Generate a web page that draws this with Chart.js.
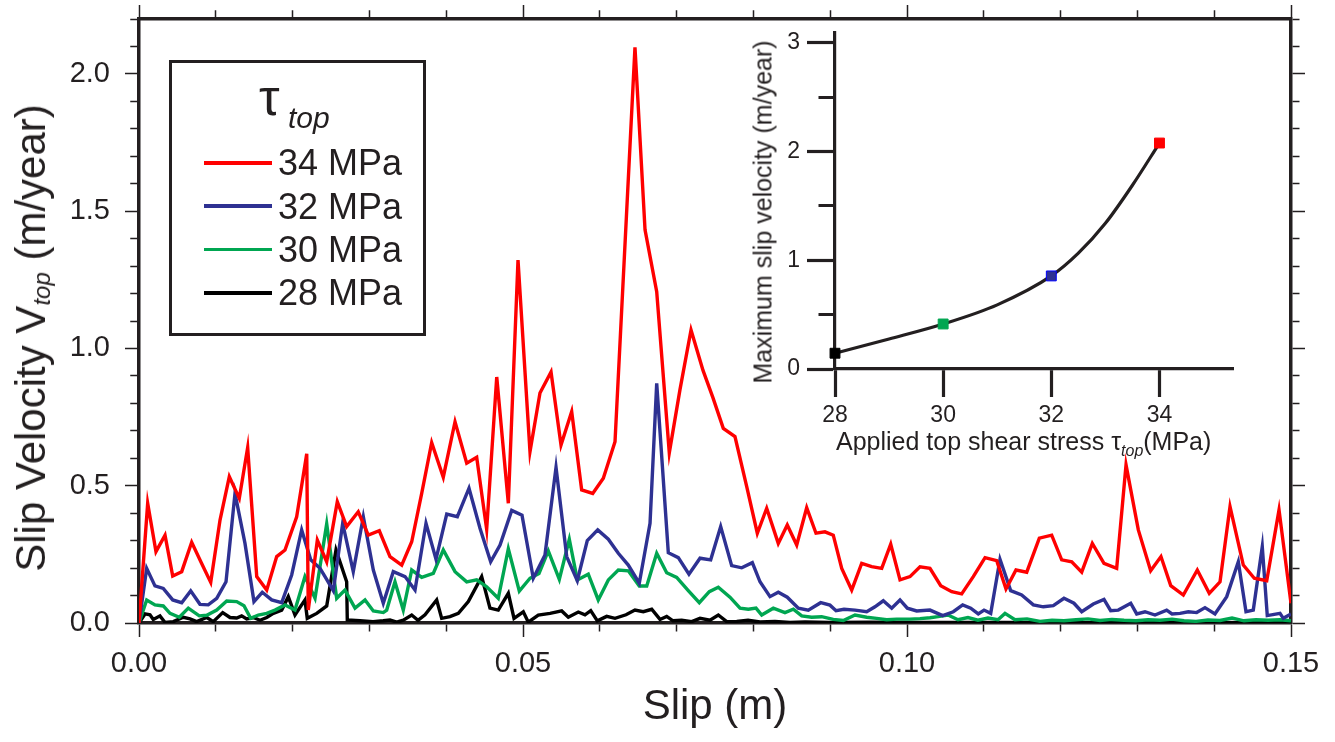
<!DOCTYPE html>
<html lang="en">
  <head>
    <meta charset="UTF-8" />
    <title>Slip velocity vs slip</title>
    <script src="https://cdn.jsdelivr.net/npm/chart.js"></script>
    <style>
      body { margin: 0; background: #fff; }
      #wrap { position: relative; width: 1335px; height: 742px; font-family: "Liberation Sans", Arial, sans-serif; color: #231f20; }
      canvas { position: absolute; }
      .txt { position: absolute; white-space: nowrap; line-height: 1; }
      .rot { transform: translate(-50%, -50%) rotate(-90deg); }
      .legbox { position: absolute; left: 169px; top: 60px; width: 257px; height: 276px; box-sizing: border-box; border: 3.5px solid #231f20; }
      .swatch { position: absolute; left: 204px; width: 68px; height: 3.5px; }
    </style>
  </head>
  <body>
    <div id="wrap">
      <canvas id="mainChart" width="1335" height="742" style="left:0;top:0"></canvas>
      <canvas id="insetChart" width="600" height="480" style="left:700px;top:0"></canvas>

      <!-- main y title -->
      <div class="txt rot" style="left:31px;top:338px;font-size:42px">Slip Velocity V<span style="font-size:24px;font-style:italic;position:relative;top:0.2em">top</span> (m/year)</div>

      <!-- legend -->
      <div class="legbox"></div>
      <div class="txt" style="left:259px;top:71px;font-size:52px">&tau;</div>
      <div class="txt" style="left:288px;top:103px;font-size:30px;font-style:italic">top</div>
      <div class="swatch" style="top:161px;background:#ff0000"></div>
      <div class="swatch" style="top:204px;background:#2e3192"></div>
      <div class="swatch" style="top:247.5px;background:#00a651"></div>
      <div class="swatch" style="top:291px;background:#000000"></div>
      <div class="txt" style="left:278px;top:145px;font-size:36px">34 MPa</div>
      <div class="txt" style="left:278px;top:188.5px;font-size:36px">32 MPa</div>
      <div class="txt" style="left:278px;top:232px;font-size:36px">30 MPa</div>
      <div class="txt" style="left:278px;top:275px;font-size:36px">28 MPa</div>

      <!-- inset titles -->
      <div class="txt rot" style="left:763px;top:212px;font-size:25px">Maximum slip velocity (m/year)</div>
      <div class="txt" style="left:836px;top:429px;font-size:25px">Applied top shear stress &tau;<span style="font-size:16px;font-style:italic;position:relative;top:0.35em">top</span>(MPa)</div>
    </div>

    <script>
      // slip (m) and slip velocity (m/year)
      const slip34 = [0, 0.00113, 0.00221, 0.00339, 0.00439, 0.00556, 0.00686, 0.00816, 0.00934, 0.01055,
        0.01176, 0.01306, 0.01415, 0.01533, 0.01663, 0.01793, 0.01901, 0.02053, 0.02184, 0.02204,
        0.02322, 0.02444, 0.02582, 0.02704, 0.02855, 0.02986, 0.03129, 0.03268, 0.03421, 0.03551,
        0.03681, 0.03811, 0.03962, 0.04115, 0.04267, 0.04397, 0.04527, 0.04658, 0.04809, 0.04935,
        0.05091, 0.05221, 0.05365, 0.05495, 0.05634, 0.05764, 0.05908, 0.06046, 0.06198, 0.06458,
        0.06589, 0.06741, 0.06905, 0.07044, 0.07188, 0.07344, 0.07474, 0.07608, 0.0776, 0.07913,
        0.08051, 0.08173, 0.08324, 0.08441, 0.08564, 0.08694, 0.08815, 0.08932, 0.0904, 0.0915,
        0.0928, 0.0941, 0.0954, 0.09671, 0.09788, 0.09909, 0.10039, 0.10169, 0.10299, 0.10439,
        0.10582, 0.10712, 0.10863, 0.11016, 0.11168, 0.11289, 0.11419, 0.11559, 0.11723, 0.11884,
        0.12014, 0.12145, 0.12275, 0.12413, 0.12565, 0.1273, 0.12852, 0.13012, 0.13173, 0.13307,
        0.13434, 0.13598, 0.1378, 0.13936, 0.14076, 0.14206, 0.14379, 0.14522, 0.14684, 0.14844, 0.15];
      const vel34 = [0, 0.436, 0.26, 0.32, 0.171, 0.187, 0.294, 0.217, 0.148, 0.375,
        0.533, 0.454, 0.639, 0.169, 0.12, 0.242, 0.266, 0.387, 0.616, 0.047,
        0.302, 0.223, 0.442, 0.351, 0.405, 0.32, 0.336, 0.242, 0.211, 0.296,
        0.472, 0.657, 0.531, 0.733, 0.582, 0.604, 0.341, 0.896, 0.436, 1.322,
        0.624, 0.838, 0.914, 0.648, 0.77, 0.485, 0.472, 0.527, 0.66, 2.097,
        1.432, 1.207, 0.62, 0.85, 1.067, 0.92, 0.82, 0.709, 0.679, 0.497,
        0.327, 0.418, 0.29, 0.357, 0.284, 0.42, 0.327, 0.332, 0.32, 0.199,
        0.12, 0.217, 0.205, 0.199, 0.287, 0.157, 0.169, 0.205, 0.199, 0.136,
        0.114, 0.106, 0.169, 0.238, 0.227, 0.124, 0.193, 0.185, 0.309, 0.32,
        0.23, 0.223, 0.185, 0.29, 0.217, 0.199, 0.576, 0.339, 0.19, 0.242,
        0.136, 0.102, 0.193, 0.108, 0.15, 0.424, 0.211, 0.163, 0.154, 0.412, 0.072];

      const slip32 = [0, 0.001, 0.00208, 0.00316, 0.00439, 0.00556, 0.00673, 0.00794, 0.00902, 0.01012,
        0.01133, 0.0125, 0.0138, 0.01497, 0.01605, 0.01728, 0.01858, 0.01988, 0.02118, 0.02236,
        0.02357, 0.02422, 0.0253, 0.02652, 0.0279, 0.02921, 0.03051, 0.03181, 0.03311, 0.03464,
        0.03594, 0.03737, 0.03867, 0.04007, 0.04145, 0.04297, 0.0444, 0.04579, 0.04701, 0.04853,
        0.04987, 0.05134, 0.05286, 0.0543, 0.05569, 0.05707, 0.05837, 0.05973, 0.06111, 0.06241,
        0.06371, 0.06514, 0.06654, 0.06741, 0.06892, 0.07022, 0.07161, 0.07305, 0.07444, 0.07574,
        0.07717, 0.07848, 0.07986, 0.08086, 0.08216, 0.08324, 0.08441, 0.08585, 0.08715, 0.08876,
        0.08997, 0.09076, 0.0918, 0.09323, 0.09475, 0.09583, 0.09691, 0.09801, 0.09909, 0.10004,
        0.10126, 0.10299, 0.10465, 0.10603, 0.10725, 0.1083, 0.10928, 0.11003, 0.1109, 0.11211,
        0.1135, 0.11493, 0.11645, 0.11775, 0.11905, 0.12044, 0.12174, 0.12275, 0.12426, 0.12565,
        0.12652, 0.12751, 0.12913, 0.12991, 0.13099, 0.13229, 0.13381, 0.13451, 0.13555, 0.13663,
        0.13772, 0.1388, 0.1401, 0.14163, 0.14314, 0.14414, 0.14509, 0.14626, 0.14691, 0.14857,
        0.149, 0.15];
      const vel32 = [0, 0.199, 0.135, 0.126, 0.084, 0.074, 0.117, 0.068, 0.066, 0.09,
        0.15, 0.472, 0.29, 0.078, 0.112, 0.084, 0.074, 0.175, 0.339, 0.23,
        0.199, 0.169, 0.118, 0.363, 0.187, 0.387, 0.193, 0.072, 0.187, 0.169,
        0.12, 0.363, 0.232, 0.397, 0.387, 0.491, 0.345, 0.223, 0.284, 0.41,
        0.393, 0.163, 0.248, 0.567, 0.242, 0.154, 0.3, 0.339, 0.305, 0.254,
        0.211, 0.145, 0.363, 0.873, 0.256, 0.238, 0.178, 0.236, 0.23, 0.351,
        0.209, 0.201, 0.22, 0.15, 0.096, 0.112, 0.094, 0.054, 0.047, 0.074,
        0.065, 0.045, 0.05, 0.047, 0.041, 0.059, 0.081, 0.054, 0.084, 0.054,
        0.044, 0.047, 0.027, 0.041, 0.066, 0.054, 0.033, 0.047, 0.035, 0.232,
        0.118, 0.102, 0.066, 0.059, 0.063, 0.09, 0.072, 0.041, 0.069, 0.086,
        0.045, 0.047, 0.072, 0.033, 0.041, 0.029, 0.047, 0.033, 0.035, 0.041,
        0.038, 0.056, 0.033, 0.096, 0.223, 0.041, 0.047, 0.278, 0.027, 0.035,
        0.017, 0.033];

      const slip30 = [0, 0.001, 0.00208, 0.00316, 0.00404, 0.00525, 0.00642, 0.00785, 0.00882, 0.01012,
        0.01142, 0.01272, 0.01367, 0.01454, 0.01553, 0.01663, 0.01771, 0.01901, 0.02031, 0.02161,
        0.02292, 0.02444, 0.02574, 0.02682, 0.02813, 0.02943, 0.03051, 0.03181, 0.03225, 0.03333,
        0.03441, 0.03551, 0.03681, 0.03832, 0.03962, 0.04115, 0.04267, 0.04397, 0.04527, 0.04678,
        0.04809, 0.04952, 0.05091, 0.05208, 0.05329, 0.05473, 0.05603, 0.05707, 0.0585, 0.0598,
        0.06111, 0.06241, 0.06371, 0.06514, 0.06611, 0.06741, 0.06871, 0.07001, 0.07152, 0.07296,
        0.07426, 0.07543, 0.07695, 0.07826, 0.07934, 0.08034, 0.08108, 0.08259, 0.08411, 0.0852,
        0.08629, 0.08759, 0.08889, 0.0904, 0.09171, 0.09323, 0.09475, 0.09605, 0.09736, 0.09866,
        0.10039, 0.10169, 0.10299, 0.10404, 0.10534, 0.10664, 0.10794, 0.10924, 0.11055, 0.11185,
        0.11276, 0.11406, 0.11563, 0.11732, 0.11888, 0.12044, 0.12201, 0.12357, 0.12513, 0.12669,
        0.12826, 0.12982, 0.13138, 0.13294, 0.13451, 0.13607, 0.13763, 0.13919, 0.14076, 0.14232,
        0.14388, 0.14544, 0.14701, 0.14857, 0.15];
      const vel30 = [0, 0.084, 0.066, 0.062, 0.035, 0.021, 0.054, 0.026, 0.028, 0.047,
        0.08, 0.078, 0.063, 0.017, 0.029, 0.035, 0.047, 0.066, 0.047, 0.169,
        0.09, 0.361, 0.09, 0.12, 0.054, 0.084, 0.044, 0.038, 0.047, 0.15,
        0.047, 0.193, 0.166, 0.181, 0.266, 0.187, 0.15, 0.157, 0.132, 0.09,
        0.27, 0.116, 0.163, 0.18, 0.263, 0.159, 0.305, 0.157, 0.178, 0.084,
        0.157, 0.193, 0.19, 0.135, 0.135, 0.254, 0.183, 0.166, 0.118, 0.074,
        0.114, 0.13, 0.094, 0.054, 0.05, 0.054, 0.029, 0.054, 0.038, 0.05,
        0.026, 0.021, 0.023, 0.013, 0.009, 0.029, 0.021, 0.017, 0.012, 0.014,
        0.014, 0.016, 0.019, 0.023, 0.029, 0.012, 0.02, 0.01, 0.018, 0.012,
        0.035, 0.012, 0.015, 0.006, 0.01, 0.008, 0.012, 0.015, 0.009, 0.013,
        0.01, 0.008, 0.012, 0.01, 0.014, 0.008, 0.006, 0.011, 0.009, 0.018,
        0.008, 0.012, 0.01, 0.012, 0.008];

      const slip28 = [0, 0.00078, 0.00143, 0.00186, 0.00273, 0.00339, 0.00447, 0.00577, 0.00664, 0.00751,
        0.00882, 0.00967, 0.0109, 0.01185, 0.01272, 0.01337, 0.01402, 0.01488, 0.01576, 0.01663,
        0.01749, 0.01858, 0.01944, 0.02031, 0.02118, 0.02161, 0.02191, 0.02314, 0.02444, 0.02565,
        0.02704, 0.02712, 0.02878, 0.03047, 0.03181, 0.03268, 0.03355, 0.03441, 0.03551, 0.03633,
        0.03724, 0.03876, 0.03941, 0.04049, 0.04158, 0.04288, 0.04462, 0.0457, 0.04678, 0.04809,
        0.04883, 0.05004, 0.05069, 0.05199, 0.05352, 0.05504, 0.0559, 0.0572, 0.05807, 0.05882,
        0.05968, 0.0609, 0.06198, 0.06341, 0.06458, 0.06566, 0.06676, 0.06784, 0.06871, 0.06953,
        0.07066, 0.07197, 0.07305, 0.07435, 0.07543, 0.07652, 0.07783, 0.0793, 0.08086, 0.08281,
        0.08477, 0.08672, 0.08997, 0.09518, 0.10169, 0.11211, 0.12513, 0.13815, 0.15];
      const vel28 = [0, 0.033, 0.03, 0.013, 0.026, 0.002, 0.005, 0.021, 0.015, 0.005,
        0.02, 0.005, 0.038, 0.02, 0.018, 0.026, 0.015, 0.02, 0.01, 0.02,
        0.035, 0.047, 0.096, 0.029, 0.066, 0.084, 0.017, 0.035, 0.062, 0.266,
        0.15, 0.011, 0.008, 0.005, 0.008, 0.011, 0.003, 0.01, 0.029, 0.01,
        0.03, 0.084, 0.017, 0.023, 0.035, 0.078, 0.169, 0.054, 0.047, 0.108,
        0.017, 0.041, 0.003, 0.029, 0.035, 0.044, 0.021, 0.04, 0.03, 0.045,
        0.008, 0.024, 0.017, 0.03, 0.047, 0.041, 0.05, 0.013, 0.024, 0.008,
        0.01, 0.005, 0.017, 0.01, 0.029, 0.005, 0.006, 0.01, 0.004, 0.006,
        0.002, 0.004, 0.002, 0.003, 0.002, 0.002, 0.001, 0.002, 0.001];

      // inset: applied top shear stress (MPa) vs maximum slip velocity (m/year)
      const shearStress = [28, 30, 32, 34];
      const maxVelocity = [0.145, 0.414, 0.856, 2.078];
      const markerColors = ['#000000', '#00a651', '#2e3192', '#ff0000'];
      const markerEdges = ['#000000', '#00a651', '#0000ff', '#ff0000'];
      // points
      const fitStress = [28, 29, 30, 31, 32, 32.5, 33, 33.5, 34];
      const fitVelocity = [0.145, 0.276, 0.414, 0.59, 0.856, 1.065, 1.34, 1.69, 2.078];

      const ink = '#231f20';
      Chart.defaults.font.family = '"Liberation Sans", Arial, sans-serif';
      Chart.defaults.color = ink;

      const pts = (xs, ys) => xs.map((x, i) => ({ x: x, y: ys[i] }));
      const isMult = (v, step) => Math.abs(v / step - Math.round(v / step)) < 1e-6;

      // frame axis: long major ticks, short minor ticks, labels only on majors
      function frameAxis(pos, min, max, step, major, fmt, pad, lineHeight, extra) {
        const outerStart = pos === 'top' || pos === 'left';
        const gap = 14 - 1.75 - 7;
        return Object.assign({
          type: 'linear',
          position: pos,
          min: min,
          max: max,
          border: { color: ink, width: 3.5 },
          grid: {
            drawOnChartArea: false,
            tickLength: 14,
            tickWidth: 1.5,
            tickColor: ink,
            tickBorderDash: ctx => {
              if (ctx.tick && isMult(ctx.tick.value, major)) return [];
              return outerStart ? [0, gap, 7, 100] : [7, 100];
            }
          },
          ticks: {
            stepSize: step,
            autoSkip: false,
            maxRotation: 0,
            includeBounds: false,
            display: !!fmt,
            padding: pad,
            font: { size: 29, lineHeight: lineHeight },
            color: ink,
            callback: v => (fmt && isMult(v, major) ? fmt(v) : '')
          }
        }, extra || {});
      }

      const lineSet = (label, xs, ys, color) => ({
        label: label,
        data: pts(xs, ys),
        showLine: true,
        borderColor: color,
        backgroundColor: color,
        borderWidth: 3.4,
        pointRadius: 0,
        tension: 0
      });

      new Chart(document.getElementById('mainChart'), {
        type: 'scatter',
        data: {
          datasets: [
            lineSet('34 MPa', slip34, vel34, '#ff0000'),
            lineSet('32 MPa', slip32, vel32, '#2e3192'),
            lineSet('30 MPa', slip30, vel30, '#00a651'),
            lineSet('28 MPa', slip28, vel28, '#000000')
          ]
        },
        options: {
          responsive: false,
          animation: false,
          devicePixelRatio: 1,
          layout: { padding: 0 },
          plugins: { legend: { display: false }, tooltip: { enabled: false } },
          scales: {
            x: frameAxis('bottom', 0, 0.15, 0.01, 0.05, v => v.toFixed(2), 10, 1.2, {
              title: { display: true, text: 'Slip (m)', font: { size: 42 }, color: ink, padding: { bottom: 9 } },
              afterFit: s => { s.height = 119; }
            }),
            x2: frameAxis('top', 0, 0.15, 0.01, 0.05, null, 0, 0.2, { afterFit: s => { s.height = 19; } }),
            y: frameAxis('left', 0, 2.2, 0.1, 0.5, v => v.toFixed(1), 15, 0.2, { afterFit: s => { s.width = 139; } }),
            y2: frameAxis('right', 0, 2.2, 0.1, 0.5, null, 0, 0.2, { afterFit: s => { s.width = 44; } })
          }
        }
      });

      new Chart(document.getElementById('insetChart'), {
        type: 'scatter',
        data: {
          datasets: [{
            data: pts(shearStress, maxVelocity),
            showLine: false,
            pointStyle: 'rect',
            pointRadius: 7,
            pointBorderWidth: 1,
            pointBackgroundColor: markerColors,
            pointBorderColor: markerEdges,
            clip: false
          }, {
            data: pts(fitStress, fitVelocity),
            showLine: true,
            cubicInterpolationMode: 'monotone',
            borderColor: ink,
            borderWidth: 3.2,
            pointRadius: 0,
            clip: false
          }]
        },
        options: {
          responsive: false,
          animation: false,
          devicePixelRatio: 1,
          layout: { padding: { top: 33, right: 67, left: 0, bottom: 0 } },
          plugins: { legend: { display: false }, tooltip: { enabled: false } },
          scales: {
            x: {
              type: 'linear',
              min: 28,
              max: 35.36,
              border: { color: ink, width: 3.2 },
              grid: { drawOnChartArea: false, tickLength: 28, tickWidth: 3.2, tickColor: ink },
              ticks: { stepSize: 2, includeBounds: false, font: { size: 23 }, color: ink, padding: 5, maxRotation: 0 },
              afterFit: s => { s.height = 111; }
            },
            y: {
              type: 'linear',
              min: 0,
              max: 3.09,
              border: { color: ink, width: 3.2 },
              grid: {
                drawOnChartArea: false,
                tickLength: 28,
                tickWidth: 3.2,
                tickColor: ink,
                tickBorderDash: ctx => (ctx.tick && isMult(ctx.tick.value, 1) ? [] : [0, 11.5, 15, 100])
              },
              ticks: {
                stepSize: 0.5,
                includeBounds: false,
                autoSkip: false,
                font: { size: 23, lineHeight: 0.5 },
                color: ink,
                padding: 7,
                callback: v => (isMult(v, 1) ? String(Math.round(v)) : '')
              },
              afterFit: s => { s.width = 135; }
            }
          }
        }
      });
    </script>
  </body>
</html>
